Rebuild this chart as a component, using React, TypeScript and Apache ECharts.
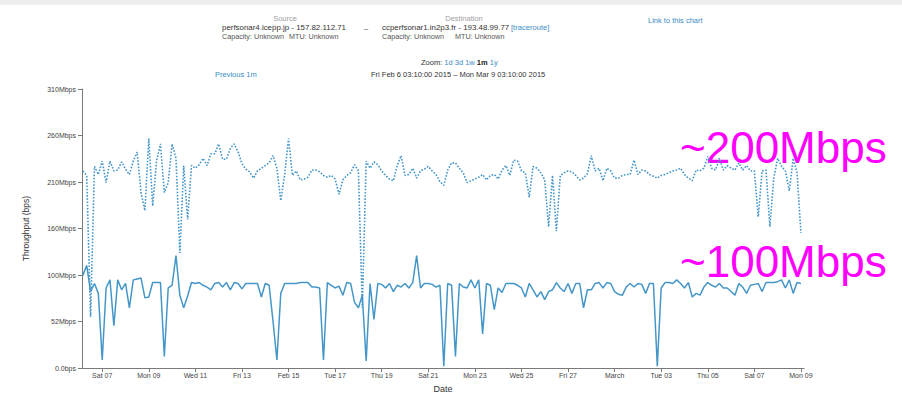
import React, { useEffect, useRef } from "react";
import * as echarts from "echarts";

// time in hours since Fri Feb 6 2015 00:00
const axisStartHour = 3 + 10 / 60; // Fri Feb 6 03:10
const axisEndHour = 31 * 24 + 3 + 10 / 60; // Mon Mar 9 03:10
const firstSampleHour = 4;
const sampleStepHours = 4;

const xTickHours = [24, 72, 120, 168, 216, 264, 312, 360, 408, 456, 504, 552, 600, 648, 696, 744];
const xTickLabels = [
  "Sat 07", "Mon 09", "Wed 11", "Fri 13", "Feb 15", "Tue 17", "Thu 19", "Sat 21",
  "Mon 23", "Wed 25", "Fri 27", "March", "Tue 03", "Thu 05", "Sat 07", "Mon 09",
];

const yMax = 310;
const yTickValues = [0, 310 / 6, (310 * 2) / 6, (310 * 3) / 6, (310 * 4) / 6, (310 * 5) / 6, 310];
const yTickLabels = ["0.0bps", "52Mbps", "100Mbps", "160Mbps", "210Mbps", "260Mbps", "310Mbps"];

// Mbps, one value every 4 hours (6 per day)
const dottedMbps = [
  219, 214, 57, 224, 215, 230,
  206, 230, 219, 220, 229, 221,
  215, 230, 240, 195, 175, 255,
  180, 230, 249, 195, 206, 249,
  233, 128, 225, 165, 225, 222,
  226, 233, 225, 238, 238, 249,
  232, 232, 244, 249, 240, 227,
  221, 218, 211, 219, 222, 225,
  228, 236, 222, 186, 215, 255,
  214, 219, 209, 210, 212, 220,
  220, 218, 214, 212, 214, 210,
  193, 209, 214, 217, 226, 219,
  67, 230, 222, 229, 226, 219,
  214, 210, 208, 225, 236, 214,
  215, 222, 211, 219, 221, 224,
  219, 215, 207, 203, 220, 228,
  228, 222, 217, 206, 208, 210,
  212, 215, 209, 214, 215, 210,
  220, 225, 214, 231, 230, 219,
  217, 190, 224, 222, 217, 209,
  157, 214, 152, 214, 217, 219,
  218, 214, 209, 211, 216, 236,
  219, 222, 208, 222, 219, 211,
  211, 214, 215, 215, 231, 215,
  220, 219, 215, 213, 211, 214,
  215, 217, 219, 220, 222, 215,
  211, 208, 220, 219, 222, 235,
  222, 220, 233, 220, 225, 222,
  220, 228, 220, 225, 219, 219,
  168, 219, 220, 157, 211, 233,
  224, 219, 197, 233, 217, 150,
];

const solidMbps = [
  103, 114, 85, 94, 83, 9,
  89, 98, 47, 98, 87, 94,
  67, 98, 99, 100, 78, 79,
  95, 95, 95, 13, 89, 92,
  125, 81, 67, 80, 95, 94,
  95, 92, 90, 87, 94, 95,
  90, 95, 87, 95, 94, 88,
  94, 94, 94, 94, 79, 94,
  92, 52, 9, 83, 94, 94,
  94, 94, 95, 95, 95, 90,
  90, 89, 9, 95, 92, 89,
  91, 81, 95, 94, 73, 67,
  81, 8, 94, 54, 94, 93,
  89, 94, 85, 92, 90, 94,
  89, 95, 125, 89, 94, 94,
  93, 90, 92, 2, 94, 92,
  13, 94, 90, 89, 98, 89,
  98, 38, 94, 92, 65, 89,
  84, 94, 94, 94, 92, 89,
  79, 94, 87, 79, 85, 76,
  85, 87, 95, 89, 85, 94,
  83, 94, 94, 67, 87, 87,
  94, 95, 89, 95, 94, 85,
  82, 81, 90, 94, 90, 94,
  93, 83, 94, 94, 2, 89,
  95, 95, 94, 98, 94, 89,
  95, 79, 83, 81, 90, 95,
  92, 90, 94, 89, 89, 85,
  81, 94, 90, 83, 92, 93,
  94, 85, 95, 95, 95, 96,
  98, 89, 98, 83, 95, 94,
];

const FONT = "'Liberation Sans', Arial, sans-serif";
const LINK = "#3a8cc4";
const LINE = "#4596c8";

function txt(text: string, x: number, y: number, opts: any = {}) {
  return {
    type: "text",
    x,
    y,
    silent: true,
    style: {
      text,
      fill: opts.fill || "#333",
      fontSize: opts.fontSize || 7.5,
      fontFamily: FONT,
      fontWeight: opts.fontWeight || "normal",
      textAlign: opts.align || "left",
      align: opts.align || "left",
      textVerticalAlign: "middle",
      verticalAlign: "middle",
      rich: opts.rich,
    },
  };
}

export default function App() {
  const ref = useRef<HTMLDivElement>(null);

  useEffect(() => {
    document.body.style.margin = "0";
    if (!ref.current) return;
    const chart = echarts.init(ref.current, undefined, { renderer: "svg" });

    const toPairs = (arr: number[]) => arr.map((v, i) => [firstSampleHour + i * sampleStepHours, v]);
    const xFmt = (val: number) => {
      const i = xTickHours.findIndex((h) => Math.abs(h - val) < 0.01);
      return i >= 0 ? xTickLabels[i] : "";
    };
    const yFmt = (val: number) => {
      const i = yTickValues.findIndex((h) => Math.abs(h - val) < 0.01);
      return i >= 0 ? yTickLabels[i] : "";
    };

    const richZoom = {
      k: { fill: "#333", fontSize: 7.5, fontFamily: FONT },
      l: { fill: LINK, fontSize: 7.5, fontFamily: FONT },
      b: { fill: "#222", fontSize: 7.5, fontFamily: FONT, fontWeight: "bold" },
    };

    chart.setOption({
      animation: false,
      backgroundColor: "#ffffff",
      grid: { left: 82, right: 98, top: 89, bottom: 23, containLabel: false },
      xAxis: {
        type: "value",
        min: axisStartHour,
        max: axisEndHour,
        axisLine: { show: true, onZero: false, lineStyle: { color: "#7a7a7a", width: 1 } },
        axisTick: { show: true, customValues: xTickHours, length: 4, lineStyle: { color: "#7a7a7a" } },
        axisLabel: {
          customValues: xTickHours,
          formatter: xFmt,
          fontSize: 7,
          color: "#444",
          fontFamily: FONT,
          margin: 4,
        },
        splitLine: { show: false },
        name: "Date",
        nameLocation: "middle",
        nameGap: 12,
        nameTextStyle: { fontSize: 9, color: "#333", fontFamily: FONT },
      },
      yAxis: {
        type: "value",
        min: 0,
        max: yMax,
        axisLine: { show: true, onZero: false, lineStyle: { color: "#7a7a7a", width: 1 } },
        axisTick: { show: true, customValues: yTickValues, length: 4, lineStyle: { color: "#7a7a7a" } },
        axisLabel: {
          customValues: yTickValues,
          formatter: yFmt,
          fontSize: 7,
          color: "#444",
          fontFamily: FONT,
          margin: 6,
        },
        splitLine: { show: false },
        name: "Throughput (bps)",
        nameLocation: "middle",
        nameGap: 52,
        nameTextStyle: { fontSize: 8.5, color: "#333", fontFamily: FONT },
      },
      series: [
        {
          type: "line",
          name: "forward",
          data: toPairs(dottedMbps),
          showSymbol: false,
          lineStyle: { color: LINE, width: 1.6, type: "dotted" },
          z: 2,
        },
        {
          type: "line",
          name: "reverse",
          data: toPairs(solidMbps),
          showSymbol: false,
          lineStyle: { color: LINE, width: 1.5, type: "solid" },
          z: 3,
        },
      ],
      graphic: [
        { type: "rect", shape: { x: 0, y: 0, width: 902, height: 5 }, style: { fill: "#eeeeee" }, silent: true },
        txt("Source", 285, 18, { fill: "#a0a0a0", align: "center" }),
        txt("perfsonar4.icepp.jp - 157.82.112.71", 222, 27, { fontSize: 7.9 }),
        txt("Capacity: Unknown", 222, 36, { fill: "#555", fontSize: 7.2 }),
        txt("MTU: Unknown", 289, 36, { fill: "#555", fontSize: 7.2 }),
        txt("–", 366, 28, { fill: "#555", align: "center" }),
        txt("Destination", 464, 18, { fill: "#a0a0a0", align: "center" }),
        txt("ccperfsonar1.in2p3.fr - 193.48.99.77", 382, 27, { fontSize: 7.9 }),
        txt("[traceroute]", 511, 27, { fill: LINK, fontSize: 7.6 }),
        txt("Capacity: Unknown", 382, 36, { fill: "#555", fontSize: 7.2 }),
        txt("MTU: Unknown", 455, 36, { fill: "#555", fontSize: 7.2 }),
        txt("Link to this chart", 648, 20.5, { fill: LINK }),
        txt("{k|Zoom:} {l|1d} {l|3d} {l|1w} {b|1m} {l|1y}", 421, 62, { rich: richZoom }),
        txt("Previous 1m", 215, 74, { fill: LINK }),
        txt("Fri Feb 6 03:10:00 2015 – Mon Mar 9 03:10:00 2015", 371, 74),
        txt("~200Mbps", 680, 147, { fill: "#ff00ff", fontSize: 44 }),
        txt("~100Mbps", 680, 261, { fill: "#ff00ff", fontSize: 44 }),
      ],
    });

    return () => chart.dispose();
  }, []);

  return (
    <div
      ref={ref}
      style={{ position: "absolute", left: 0, top: 0, width: 902, height: 398, background: "#fff" }}
    />
  );
}
